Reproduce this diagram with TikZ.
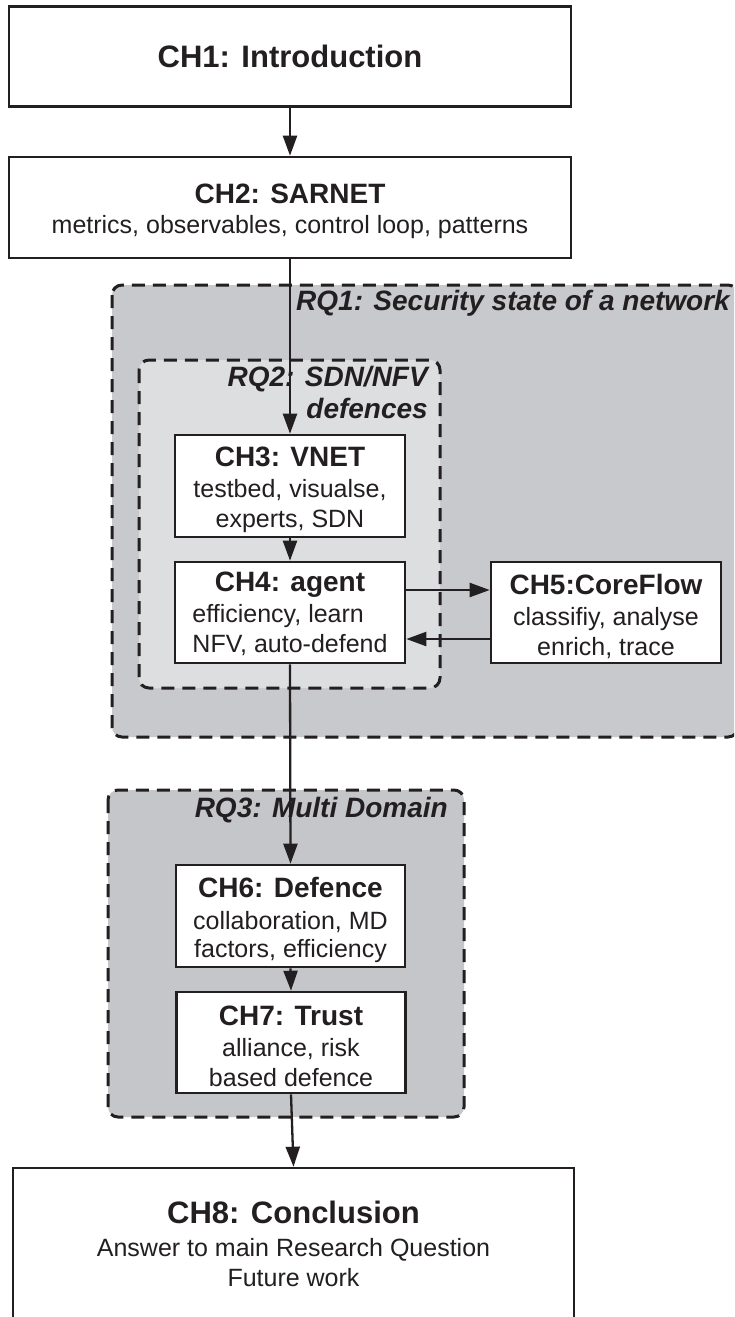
\documentclass[tikz,border=0pt]{standalone}
\usepackage{fontspec}
\setmainfont{Liberation Sans}
\usetikzlibrary{arrows.meta,calc}

\definecolor{ink}{RGB}{35,31,32}
\definecolor{rqone}{RGB}{200,201,204}
\definecolor{rqtwo}{RGB}{221,222,224}
\definecolor{rqthree}{RGB}{197,198,201}

\tikzset{
  chbox/.style={draw=ink, fill=white, line width=2.6pt, rectangle, inner sep=0pt,
    align=center, text=ink, font=\fontsize{25}{30}\selectfont},
  region/.style={draw=ink, line width=3pt, dash pattern=on 13pt off 8pt,
    rounded corners=10pt},
  rqlabel/.style={font=\fontsize{28}{32}\selectfont\bfseries\itshape, text=ink,
    inner sep=0pt, align=right},
  flow/.style={draw=ink, line width=2.3pt, -{Triangle[length=20pt,width=14pt]}},
}
% chapter heading line: bold, with a fixed height above its baseline
\newcommand\chtitle[1]{{\fontsize{28}{30}\selectfont\bfseries\rule{0pt}{28pt}#1}}
\newcommand\bigtitle[1]{{\fontsize{31}{33}\selectfont\bfseries #1}}

\begin{document}
\begin{tikzpicture}[x=1pt,y=-1pt]
\useasboundingbox (0,0) rectangle (734,1317);
\fill[white] (0,0) rectangle (734,1317);

\begin{scope}
  \clip (0,0) rectangle (734,1317);
  % research-question regions
  \draw[region, fill=rqone]   (112,285) rectangle (738,737);
  \draw[region, fill=rqtwo]   (139,360) rectangle (440,688);
  \draw[region, fill=rqthree] (108,790) rectangle (464,1117);

  % chapter boxes
  \node[chbox, minimum width=562, minimum height=100] (ch1) at (290,56.5)
    {\bigtitle{CH1: Introduction}};
  \node[chbox, minimum width=562, minimum height=101] (ch2) at (290,207.5)
    {\chtitle{CH2: SARNET}\\ metrics, observables, control loop, patterns};
  \node[chbox, minimum width=230, minimum height=102] (ch3) at (290,486)
    {\chtitle{CH3: VNET}\\[1pt] testbed, visualse,\\ experts, SDN};
  \node[chbox, minimum width=230, minimum height=101] (ch4) at (290,612.5)
    {\chtitle{CH4: agent}\\[1pt] \begin{tabular}[t]{@{}l@{}}efficiency, learn\\ NFV, auto-defend\end{tabular}};
  \node[chbox, minimum width=230, minimum height=101] (ch5) at (606,612.5)
    {\chtitle{CH5:CoreFlow}\\[1pt] classifiy, analyse\\ enrich, trace};
  \node[chbox, minimum width=229, minimum height=102] (ch6) at (290.5,916)
    {\chtitle{CH6: Defence}\\[2pt] collaboration, MD\\[-2pt] factors, efficiency};
  \node[chbox, minimum width=229, minimum height=101] (ch7) at (291,1042.5)
    {\chtitle{CH7: Trust}\\[1pt] alliance, risk\\ based defence};
  \node[chbox, minimum width=561, minimum height=152] (ch8) at (293.5,1244)
    {\bigtitle{CH8: Conclusion}\\[3pt] Answer to main Research Question\\ Future work};
\end{scope}

% region labels
\node[rqlabel, anchor=east] (rq1) at (730,303) {RQ1: Security state of a network};
\node[rqlabel, anchor=north east] (rq2) at (428,366) {RQ2: SDN/NFV\\ defences};
\node[rqlabel, anchor=east] (rq3) at (448,810) {RQ3: Multi Domain};

% connectors
\draw[flow] (ch1.south) -- (ch2.north);
\draw[flow] (ch2.south) -- (ch3.north);
\draw[flow] (ch3.south) -- (ch4.north);
\draw[flow] ([yshift=22.5pt]ch4.east) -- ([yshift=22.5pt]ch5.west);
\draw[flow] ([yshift=-26.5pt]ch5.west) -- ([yshift=-26.5pt]ch4.east);
\draw[flow] (ch4.south) -- (ch6.north);
\draw[flow] (ch6.south) -- (ch7.north);
\draw[flow] (ch7.south) -- (ch8.north);
\end{tikzpicture}
\end{document}
